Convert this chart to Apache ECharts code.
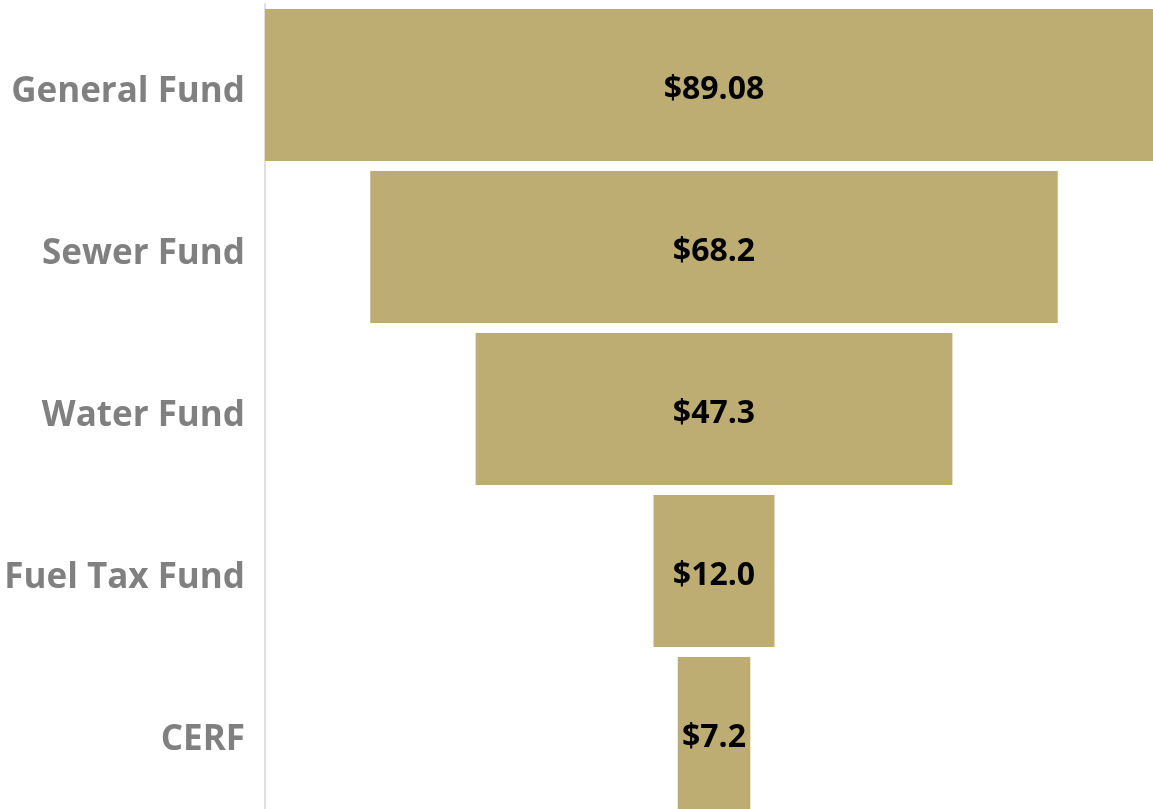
<!DOCTYPE html>
<html>
<head>
<meta charset="utf-8">
<script src="https://cdn.jsdelivr.net/npm/echarts@6/dist/echarts.min.js"></script>
<style>
html,body{margin:0;padding:0;background:#fff;overflow:hidden;width:1153px;height:809px;}
#chart{width:1163px;height:814px;}
</style>
</head>
<body>
<div id="chart"></div>
<script>
var categories = ['General Fund', 'Sewer Fund', 'Water Fund', 'Fuel Tax Fund', 'CERF'];
var values = [89.08, 68.2, 47.3, 12.0, 7.2];
var valueLabels = ['$89.08', '$68.2', '$47.3', '$12.0', '$7.2'];

var maxVal = Math.max.apply(null, values);
var offsets = values.map(function (v) { return (maxVal - v) / 2; });

var chart = echarts.init(document.getElementById('chart'), null, {renderer: 'canvas'});
chart.setOption({
  animation: false,
  grid: {left: 265, top: 4, right: 0, bottom: 0, containLabel: false},
  xAxis: {
    type: 'value', min: 0, max: maxVal, show: false
  },
  yAxis: {
    type: 'category',
    data: categories,
    inverse: true,
    axisLine: {show: true, lineStyle: {color: '#e0e0e0', width: 2}},
    axisTick: {show: false},
    axisLabel: {
      margin: 20,
      color: '#808080',
      fontSize: 35,
      fontWeight: 'bold',
      fontFamily: 'Open Sans',
      verticalAlign: 'top',
      lineHeight: 14
    }
  },
  series: [
    {
      type: 'bar', stack: 'f', data: offsets,
      itemStyle: {color: 'rgba(0,0,0,0)'},
      barWidth: 152, silent: true
    },
    {
      type: 'bar', stack: 'f', data: values,
      barWidth: 152,
      itemStyle: {color: '#BDAD73'},
      label: {
        show: true, position: 'inside',
        formatter: function (p) { return valueLabels[p.dataIndex]; },
        color: '#000', fontSize: 32, fontWeight: 'bold', fontFamily: 'Open Sans',
        offset: [0, 5]
      }
    }
  ]
});
</script>
</body>
</html>
